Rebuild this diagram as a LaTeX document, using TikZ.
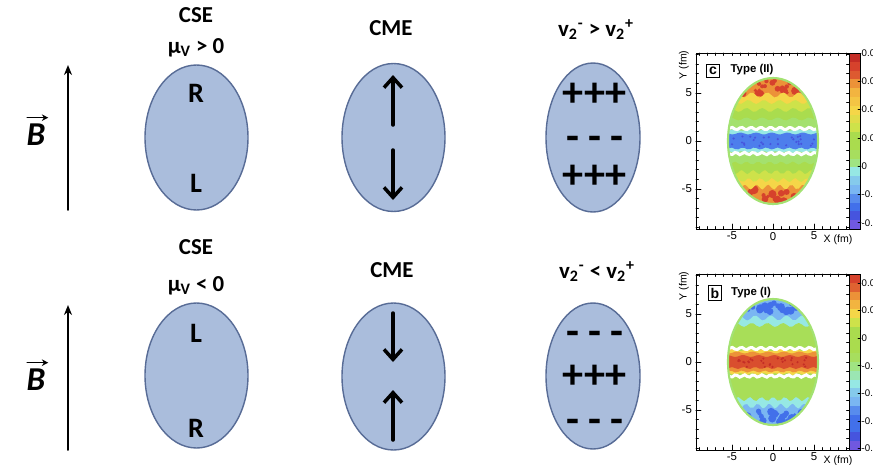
\documentclass[tikz,border=0pt]{standalone}
\usepackage{fontspec}
\setmainfont{Carlito}
\newfontfamily\plotfont{Liberation Sans}
\usepackage{amsmath,amssymb}
\usetikzlibrary{arrows.meta}
\usepackage{xcolor}

\definecolor{ellfill}{RGB}{170,189,220}
\definecolor{elldraw}{RGB}{88,108,150}
\definecolor{hmDarkRed}{RGB}{196,45,38}
\definecolor{hmRed}{RGB}{214,66,44}
\definecolor{hmOrange}{RGB}{236,146,56}
\definecolor{hmLtOrange}{RGB}{242,180,64}
\definecolor{hmYellow}{RGB}{245,214,72}
\definecolor{hmYelGreen}{RGB}{206,226,74}
\definecolor{hmGreen}{RGB}{170,220,78}
\definecolor{hmLtGreen}{RGB}{160,228,130}
\definecolor{hmCyan}{RGB}{150,232,228}
\definecolor{hmLtBlue}{RGB}{122,182,242}
\definecolor{hmBlue}{RGB}{66,112,234}
\definecolor{hmDeepBlue}{RGB}{70,84,222}
\definecolor{hmViolet}{RGB}{112,88,224}

% outline of the fireball in the maps, centred at (0,0)
\newcommand{\blob}{(-45,0) .. controls (-45,-36) and (-25,-63) .. (0,-63)
  .. controls (25,-63) and (45,-36) .. (45,0)
  .. controls (45,36) and (25,63) .. (0,63)
  .. controls (-25,63) and (-45,36) .. (-45,0) -- cycle}
% a horizontal band with ragged edges: colour, half height, amplitude
\newcommand{\band}[3]{\fill[#1] plot[domain=-50:50,samples=34,smooth] (\x,{-#2+#3*sin(\x*23+#2*40)})
  -- plot[domain=50:-50,samples=34,smooth] (\x,{#2+#3*sin(\x*31+#2*17)}) -- cycle;}

\begin{document}
\begin{tikzpicture}[x=0.02cm,y=-0.02cm,>={Stealth[length=2mm,width=1.6mm]},line cap=round,
  ell/.style={draw=elldraw,fill=ellfill,line width=0.8pt},
  hd/.style={font=\bfseries\fontsize{13}{15}\selectfont},
  big/.style={font=\bfseries\fontsize{16}{18}\selectfont},
  sgn/.style={font=\bfseries\fontsize{24}{24}\selectfont},
  bfield/.style={font=\bfseries\itshape\fontsize{19}{19}\selectfont,inner sep=1pt},
  vecarrow/.style={line width=0.8pt,-{Stealth[length=1.3mm,width=1.3mm]}},
  cmearrow/.style={line width=2pt,-{Straight Barb[length=2mm,width=3.6mm]}},
  barrow/.style={line width=1.1pt,->},
  ticklbl/.style={font=\plotfont\fontsize{6.5}{7}\selectfont,inner sep=1pt},
  cblbl/.style={font=\plotfont\fontsize{5.5}{6}\selectfont,inner sep=0.5pt,anchor=west},
  tagbox/.style={draw,font=\plotfont\bfseries\fontsize{8}{8}\selectfont,inner sep=1.5pt,line width=0.5pt}]
\useasboundingbox (0,0) rectangle (873,464);

% ---- upper row: mu_V > 0
\draw[barrow] (68,210) -- (68,65);
\node[bfield] (bvec1) at (36,135) {B};
\draw[vecarrow] ([xshift=1.5pt,yshift=2.5pt]bvec1.north west) -- ([xshift=0.5pt,yshift=2.5pt]bvec1.north east);
\node[hd] (cse1) at (196,15) {CSE};
\node[hd] (mu1) at (196,48) {μ\textsubscript{V} > 0};
\draw[ell] (196.5,137.5) ellipse (51.5 and 72.5);
\node[big] (r1) at (196,93) {R};
\node[big] (l1) at (196,183) {L};
\node[hd] (cme1) at (391,28) {CME};
\draw[ell] (393.5,137.5) ellipse (51.5 and 74);
\draw[cmearrow] (393,125) -- (393,75);
\draw[cmearrow] (393,150) -- (393,200);
\node[hd] (vtwo1) at (596,30) {v\textsubscript{2}\textsuperscript{-} > v\textsubscript{2}\textsuperscript{+}};
\draw[ell] (593,137.5) ellipse (47 and 74.5);
\node[sgn] (pa1) at (595,95) {+++};
\node[sgn] (ma1) at (595,143) {- - -};
\node[sgn] (pb1) at (595,177) {+++};

% ---- lower row: mu_V < 0
\draw[barrow] (68,450) -- (68,305);
\node[bfield] (bvec2) at (36,380) {B};
\draw[vecarrow] ([xshift=1.5pt,yshift=2.5pt]bvec2.north west) -- ([xshift=0.5pt,yshift=2.5pt]bvec2.north east);
\node[hd] (cse2) at (196,247) {CSE};
\node[hd] (mu2) at (196,286) {μ\textsubscript{V} < 0};
\draw[ell] (196.5,375.5) ellipse (51.5 and 72.5);
\node[big] (l2) at (196,333) {L};
\node[big] (r2) at (196,428) {R};
\node[hd] (cme2) at (392,270) {CME};
\draw[ell] (393.5,376.5) ellipse (51.5 and 73.5);
\draw[cmearrow] (393,313) -- (393,362);
\draw[cmearrow] (393,440) -- (393,390);
\node[hd] (vtwo2) at (597,272) {v\textsubscript{2}\textsuperscript{-} < v\textsubscript{2}\textsuperscript{+}};
\draw[ell] (593,376) ellipse (47 and 73);
\node[sgn] (ma2) at (595,338) {- - -};
\node[sgn] (pa2) at (595,377) {+++};
\node[sgn] (mb2) at (595,426) {- - -};

% ---- frames of the two maps
\foreach \oy in {141,362} {
  \draw[line width=0.5pt] (696,\oy-88) rectangle (849,\oy+88);
  \foreach \k in {-9,...,9} {
    \draw[line width=0.4pt] (773+8.2*\k,\oy+88) -- ++(0,-2.5);
    \draw[line width=0.4pt] (773+8.2*\k,\oy-88) -- ++(0,2.5);
    \draw[line width=0.4pt] (696,\oy+9.6*\k) -- ++(2.5,0);
    \draw[line width=0.4pt] (849,\oy+9.6*\k) -- ++(-2.5,0);
  }
  \foreach \k in {-5,0,5} {
    \draw[line width=0.4pt] (773+8.2*\k,\oy+88) -- ++(0,-5);
    \draw[line width=0.4pt] (696,\oy-9.6*\k) -- ++(5,0);
  }
  \node[ticklbl,anchor=east] (yfive\oy) at (694,\oy-48) {5};
  \node[ticklbl,anchor=east] (yzero\oy) at (694,\oy) {0};
  \node[ticklbl,anchor=east] (ymfive\oy) at (694,\oy+48) {-5};
  \node[ticklbl,anchor=north] (xmfive\oy) at (732,\oy+89) {-5};
  \node[ticklbl,anchor=north] (xzero\oy) at (773,\oy+89) {0};
  \node[ticklbl,anchor=north] (xfive\oy) at (814,\oy+89) {5};
  \node[ticklbl,font=\plotfont\fontsize{6}{7}\selectfont,rotate=90] (ylab\oy) at (684,\oy-76) {Y (fm)};
  \node[ticklbl,font=\plotfont\fontsize{6}{7}\selectfont] (xlab\oy) at (838,\oy+99) {X (fm)};
}

% ---- map c, Type (II)
\begin{scope}[shift={(773,141)}]
  \begin{scope}
    \clip \blob;
    \fill[hmOrange] (-50,-70) rectangle (50,70);
    \pgfmathsetseed{11}
    \foreach \s in {-1,1}
      \foreach \i in {1,...,34} {
        \pgfmathsetmacro{\px}{rand*40}
        \pgfmathsetmacro{\py}{\s*(47+rnd*16)}
        \pgfmathsetmacro{\pr}{1.5+rnd*3}
        \fill[hmRed] (\px,\py) circle[radius=\pr];
      }
    \band{hmYellow}{46}{2.5}
    \band{hmYelGreen}{39}{2}
    \band{hmGreen}{31}{2}
    \band{hmLtGreen!60!hmGreen}{22}{1.5}
    \band{hmCyan}{11}{0.8}
    \band{hmBlue!80!hmLtBlue}{7.5}{1}
    \foreach \i in {1,...,30} {
      \pgfmathsetmacro{\px}{rand*42}
      \pgfmathsetmacro{\py}{rand*5}
      \fill[hmDeepBlue] (\px,\py) circle[radius=1.2];
    }
    \draw[white,line width=1.7pt] plot[domain=-48:48,samples=40,smooth] (\x,{-12.5+1.2*sin(\x*37)});
    \draw[white,line width=1.7pt] plot[domain=-48:48,samples=40,smooth] (\x,{12.5+1.2*sin(\x*41)});
  \end{scope}
  \draw[hmLtGreen!70!hmGreen,line width=1.2pt] \blob;
  \foreach \c [count=\i from 0] in {hmDarkRed,hmRed,hmRed!70!hmOrange,hmOrange,hmLtOrange,
      hmLtOrange!50!hmYellow,hmYellow,hmYellow!50!hmYelGreen,hmYelGreen,hmGreen,hmGreen,
      hmGreen!70!hmLtGreen,hmLtGreen,hmCyan,hmLtBlue!60!hmCyan,hmLtBlue,hmBlue!60!hmLtBlue,
      hmBlue,hmDeepBlue,hmViolet}
    \fill[\c] (76,-88+8.8*\i) rectangle (87,-79.2+8.8*\i);
  \draw[line width=0.4pt] (76,-88) rectangle (87,88);
  \foreach \v [count=\i from 0] in {0.08,0.06,0.04,0.02,0,-0.02,-0.04} {
    \draw[line width=0.4pt] (85,-88+28.3*\i) -- ++(3,0);
    \node[cblbl] (cbc\i) at (87.5,-88+28.3*\i) {\v};
  }
  \node[tagbox] (tagc) at (-60,-70) {c};
  \node[ticklbl,font=\plotfont\bfseries\fontsize{6.5}{7}\selectfont] (typec) at (-21,-71) {Type (II)};
\end{scope}

% ---- map b, Type (I)
\begin{scope}[shift={(773,362)}]
  \begin{scope}
    \clip \blob;
    \fill[hmLtBlue] (-50,-70) rectangle (50,70);
    \pgfmathsetseed{5}
    \foreach \s in {-1,1}
      \foreach \i in {1,...,34} {
        \pgfmathsetmacro{\px}{rand*38}
        \pgfmathsetmacro{\py}{\s*(49+rnd*14)}
        \pgfmathsetmacro{\pr}{1.5+rnd*3}
        \fill[hmBlue] (\px,\py) circle[radius=\pr];
      }
    \band{hmCyan}{44}{2.5}
    \band{hmGreen!80!hmLtGreen}{37}{2}
    \band{hmYellow}{12}{1}
    \band{hmOrange}{9.5}{1}
    \band{hmRed!85!hmOrange}{6}{1}
    \foreach \i in {1,...,30} {
      \pgfmathsetmacro{\px}{rand*42}
      \pgfmathsetmacro{\py}{rand*5}
      \fill[hmDarkRed] (\px,\py) circle[radius=1.2];
    }
    \draw[white,line width=1.7pt] plot[domain=-48:48,samples=40,smooth] (\x,{-13.5+1.2*sin(\x*37)});
    \draw[white,line width=1.7pt] plot[domain=-48:48,samples=40,smooth] (\x,{14+1.2*sin(\x*41)});
  \end{scope}
  \draw[hmLtGreen!70!hmGreen,line width=1.2pt] \blob;
  \foreach \c [count=\i from 0] in {hmRed,hmRed!60!hmOrange,hmOrange,hmLtOrange,hmYellow,
      hmYelGreen,hmGreen,hmGreen,hmGreen,hmGreen!70!hmLtGreen,hmLtGreen,hmLtGreen!50!hmCyan,
      hmCyan,hmLtBlue!60!hmCyan,hmLtBlue,hmBlue!60!hmLtBlue,hmBlue,hmBlue,hmDeepBlue,hmViolet}
    \fill[\c] (76,-88+8.8*\i) rectangle (87,-79.2+8.8*\i);
  \draw[line width=0.4pt] (76,-88) rectangle (87,88);
  \foreach \v [count=\i from 0] in {0.04,0.02,0,-0.02,-0.04,-0.06,-0.08} {
    \draw[line width=0.4pt] (85,-79+27.6*\i) -- ++(3,0);
    \node[cblbl] (cbb\i) at (87.5,-79+27.6*\i) {\v};
  }
  \node[tagbox] (tagb) at (-58,-69) {b};
  \node[ticklbl,font=\plotfont\bfseries\fontsize{6.5}{7}\selectfont] (typeb) at (-22,-69) {Type (I)};
\end{scope}
\end{tikzpicture}
\end{document}
